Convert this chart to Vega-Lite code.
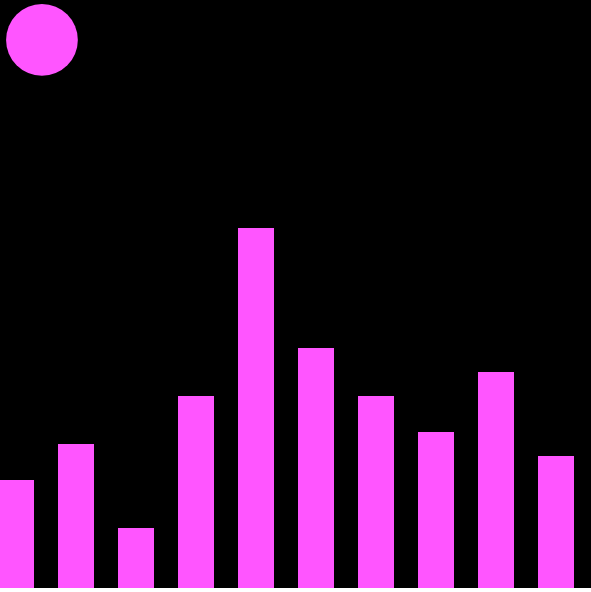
{
  "$schema": "https://vega.github.io/schema/vega-lite/v6.json",
  "width": 591,
  "height": 588,
  "padding": 0,
  "autosize": {"type": "none"},
  "background": "#000000",
  "config": {"view": {"stroke": null}},
  "layer": [
    {
      "data": {"values": [
        {"k": "a", "v": 9}, {"k": "b", "v": 12}, {"k": "c", "v": 5}, {"k": "d", "v": 16},
        {"k": "e", "v": 30}, {"k": "f", "v": 20}, {"k": "g", "v": 16}, {"k": "h", "v": 13},
        {"k": "i", "v": 18}, {"k": "j", "v": 11}
      ]},
      "mark": {"type": "bar", "color": "#FF55FF"},
      "encoding": {
        "x": {"field": "k", "type": "nominal", "axis": null,
              "scale": {"range": [-14, 586], "paddingInner": 0.4, "paddingOuter": 0.2}},
        "y": {"field": "v", "type": "quantitative", "axis": null, "scale": {"domain": [0, 49]}}
      }
    },
    {
      "data": {"values": [{"cx": 0.71, "cy": 45.67}]},
      "mark": {"type": "circle", "color": "#FF55FF", "opacity": 1, "size": 5150},
      "encoding": {
        "x": {"field": "cx", "type": "quantitative", "axis": null, "scale": {"domain": [0, 10]}},
        "y": {"field": "cy", "type": "quantitative", "axis": null, "scale": {"domain": [0, 49]}}
      }
    }
  ],
  "resolve": {"scale": {"x": "independent"}}
}
